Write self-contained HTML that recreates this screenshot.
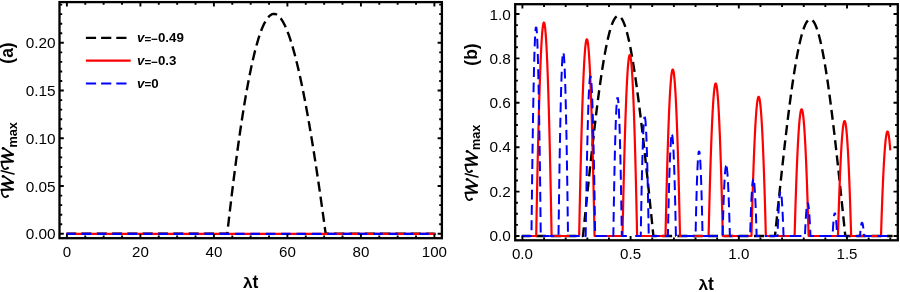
<!DOCTYPE html>
<html><head><meta charset="utf-8"><title>plot</title>
<style>html,body{margin:0;padding:0;background:#fff;}svg{display:block;will-change:transform;}</style>
</head><body>
<svg width="900" height="292" viewBox="0 0 900 292">
<rect width="900" height="292" fill="#fff"/>
<defs>
<clipPath id="cl"><rect x="59.5" y="2.1" width="382.4" height="236.1"/></clipPath>
<clipPath id="cr"><rect x="515.2" y="4.2" width="382.6" height="236.1"/></clipPath>
</defs>
<g clip-path="url(#cl)">
<path d="M66.9,233.8 L227.26,233.8 L227.87,228.34 L228.48,222.94 L229.09,217.62 L229.7,212.36 L230.3,207.17 L230.91,202.05 L231.51,197 L232.12,192.02 L232.72,187.11 L233.32,182.26 L233.92,177.48 L234.52,172.78 L235.11,168.14 L235.71,163.57 L236.3,159.07 L236.9,154.64 L237.49,150.27 L238.08,145.98 L238.67,141.75 L239.26,137.59 L239.85,133.5 L240.44,129.48 L241.03,125.53 L241.61,121.65 L242.2,117.84 L242.78,114.09 L243.37,110.42 L243.95,106.81 L244.53,103.27 L245.12,99.8 L245.7,96.4 L246.28,93.06 L246.86,89.8 L247.44,86.6 L248.02,83.48 L248.59,80.42 L249.17,77.43 L249.75,74.51 L250.33,71.66 L250.9,68.88 L251.48,66.16 L252.06,63.51 L252.63,60.94 L253.21,58.43 L253.78,55.99 L254.36,53.62 L254.93,51.32 L255.51,49.08 L256.08,46.92 L256.66,44.82 L257.23,42.8 L257.81,40.84 L258.38,38.95 L258.95,37.13 L259.53,35.37 L260.1,33.69 L260.68,32.08 L261.25,30.53 L261.83,29.05 L262.4,27.64 L262.98,26.3 L263.55,25.03 L264.13,23.83 L264.7,22.7 L265.28,21.63 L265.86,20.63 L266.43,19.71 L267.01,18.85 L267.59,18.06 L268.17,17.34 L268.75,16.68 L269.33,16.1 L269.91,15.58 L270.49,15.14 L271.07,14.76 L271.65,14.45 L272.23,14.21 L272.82,14.04 L273.4,13.93 L273.98,13.9 L274.57,13.93 L275.16,14.04 L275.74,14.21 L276.33,14.45 L276.92,14.76 L277.51,15.14 L278.1,15.58 L278.69,16.1 L279.28,16.68 L279.88,17.34 L280.47,18.06 L281.07,18.85 L281.66,19.71 L282.26,20.63 L282.86,21.63 L283.46,22.7 L284.06,23.83 L284.67,25.03 L285.27,26.3 L285.88,27.64 L286.48,29.05 L287.09,30.53 L287.7,32.08 L288.31,33.69 L288.92,35.37 L289.54,37.13 L290.15,38.95 L290.77,40.84 L291.39,42.8 L292.01,44.82 L292.63,46.92 L293.25,49.08 L293.88,51.32 L294.5,53.62 L295.13,55.99 L295.76,58.43 L296.4,60.94 L297.03,63.51 L297.66,66.16 L298.3,68.88 L298.94,71.66 L299.58,74.51 L300.23,77.43 L300.87,80.42 L301.52,83.48 L302.17,86.6 L302.82,89.8 L303.47,93.06 L304.13,96.4 L304.79,99.8 L305.45,103.27 L306.11,106.81 L306.77,110.42 L307.44,114.09 L308.11,117.84 L308.78,121.65 L309.45,125.53 L310.13,129.48 L310.81,133.5 L311.49,137.59 L312.17,141.75 L312.86,145.98 L313.55,150.27 L314.24,154.64 L314.93,159.07 L315.63,163.57 L316.33,168.14 L317.03,172.78 L317.73,177.48 L318.44,182.26 L319.15,187.11 L319.86,192.02 L320.58,197 L321.29,202.05 L322.01,207.17 L322.74,212.36 L323.46,217.62 L324.19,222.94 L324.93,228.34 L325.66,233.8 L434.4,233.8" fill="none" stroke="#000" stroke-width="2.4" stroke-linejoin="round" stroke-dasharray="10.2 5.1" stroke-dashoffset="0.8"/>
<path d="M66.2,233.8 L435.6,233.8" fill="none" stroke="#f00" stroke-width="2.3" stroke-linejoin="round"/>
<path d="M66.2,233.8 L435.6,233.8" fill="none" stroke="#00f" stroke-width="2.3" stroke-linejoin="round" stroke-dasharray="9.5 5.85" stroke-dashoffset="0"/>
</g>
<g clip-path="url(#cr)">
<path d="M521.7,236 L583,236 L583.59,230.24 L584.17,224.48 L584.76,218.73 L585.35,212.99 L585.93,207.27 L586.52,201.57 L587.11,195.89 L587.69,190.24 L588.28,184.62 L588.87,179.03 L589.45,173.49 L590.04,167.99 L590.63,162.53 L591.21,157.12 L591.8,151.77 L592.39,146.48 L592.97,141.24 L593.56,136.08 L594.15,130.98 L594.73,125.95 L595.32,121 L595.91,116.12 L596.49,111.33 L597.08,106.63 L597.67,102.01 L598.25,97.49 L598.84,93.06 L599.43,88.72 L600.01,84.49 L600.6,80.37 L601.19,76.35 L601.77,72.43 L602.36,68.63 L602.95,64.95 L603.53,61.38 L604.12,57.94 L604.71,54.61 L605.29,51.41 L605.88,48.33 L606.47,45.39 L607.05,42.57 L607.64,39.89 L608.23,37.34 L608.81,34.93 L609.4,32.65 L609.99,30.52 L610.57,28.52 L611.16,26.67 L611.75,24.96 L612.33,23.4 L612.92,21.98 L613.51,20.71 L614.09,19.59 L614.68,18.61 L615.27,17.78 L615.85,17.11 L616.44,16.58 L617.03,16.2 L617.61,15.98 L618.2,15.9 L618.79,15.98 L619.37,16.2 L619.96,16.58 L620.55,17.11 L621.13,17.78 L621.72,18.61 L622.31,19.59 L622.89,20.71 L623.48,21.98 L624.07,23.4 L624.65,24.96 L625.24,26.67 L625.83,28.52 L626.41,30.52 L627,32.65 L627.59,34.93 L628.17,37.34 L628.76,39.89 L629.35,42.57 L629.93,45.39 L630.52,48.33 L631.11,51.41 L631.69,54.61 L632.28,57.94 L632.87,61.38 L633.45,64.95 L634.04,68.63 L634.63,72.43 L635.21,76.35 L635.8,80.37 L636.39,84.49 L636.97,88.72 L637.56,93.06 L638.15,97.49 L638.73,102.01 L639.32,106.63 L639.91,111.33 L640.49,116.12 L641.08,121 L641.67,125.95 L642.25,130.98 L642.84,136.08 L643.43,141.24 L644.01,146.48 L644.6,151.77 L645.19,157.12 L645.77,162.53 L646.36,167.99 L646.95,173.49 L647.53,179.03 L648.12,184.62 L648.71,190.24 L649.29,195.89 L649.88,201.57 L650.47,207.27 L651.05,212.99 L651.64,218.73 L652.23,224.48 L652.81,230.24 L653.4,236 L775,236 L775.59,230.33 L776.18,224.66 L776.76,219 L777.35,213.35 L777.94,207.71 L778.53,202.1 L779.12,196.51 L779.71,190.95 L780.29,185.41 L780.88,179.91 L781.47,174.45 L782.06,169.04 L782.65,163.66 L783.24,158.34 L783.83,153.07 L784.41,147.86 L785,142.71 L785.59,137.62 L786.18,132.6 L786.77,127.65 L787.36,122.77 L787.94,117.98 L788.53,113.26 L789.12,108.63 L789.71,104.08 L790.3,99.63 L790.88,95.26 L791.47,91 L792.06,86.83 L792.65,82.77 L793.24,78.81 L793.83,74.96 L794.41,71.22 L795,67.59 L795.59,64.08 L796.18,60.69 L796.77,57.41 L797.36,54.26 L797.94,51.23 L798.53,48.33 L799.12,45.56 L799.71,42.92 L800.3,40.41 L800.89,38.03 L801.47,35.8 L802.06,33.69 L802.65,31.73 L803.24,29.91 L803.83,28.22 L804.42,26.68 L805,25.29 L805.59,24.04 L806.18,22.93 L806.77,21.97 L807.36,21.15 L807.95,20.49 L808.53,19.97 L809.12,19.6 L809.71,19.37 L810.3,19.3 L810.88,19.37 L811.47,19.6 L812.05,19.97 L812.63,20.49 L813.22,21.15 L813.8,21.97 L814.38,22.93 L814.97,24.04 L815.55,25.29 L816.13,26.68 L816.72,28.22 L817.3,29.91 L817.88,31.73 L818.47,33.69 L819.05,35.8 L819.63,38.03 L820.22,40.41 L820.8,42.92 L821.38,45.56 L821.97,48.33 L822.55,51.23 L823.13,54.26 L823.72,57.41 L824.3,60.69 L824.88,64.08 L825.47,67.59 L826.05,71.22 L826.63,74.96 L827.22,78.81 L827.8,82.77 L828.38,86.83 L828.97,91 L829.55,95.26 L830.13,99.63 L830.72,104.08 L831.3,108.63 L831.88,113.26 L832.47,117.98 L833.05,122.77 L833.63,127.65 L834.22,132.6 L834.8,137.62 L835.38,142.71 L835.97,147.86 L836.55,153.07 L837.13,158.34 L837.72,163.66 L838.3,169.04 L838.88,174.45 L839.47,179.91 L840.05,185.41 L840.63,190.95 L841.22,196.51 L841.8,202.1 L842.38,207.71 L842.97,213.35 L843.55,219 L844.13,224.66 L844.72,230.33 L845.3,236 L892.6,236" fill="none" stroke="#000" stroke-width="2.4" stroke-linejoin="round" stroke-dasharray="10 5.32" stroke-dashoffset="1.2"/>
<path d="M521.7,236 L536.2,236 L536.46,222 L536.71,208.48 L536.97,195.44 L537.23,182.86 L537.48,170.76 L537.74,159.14 L538,147.99 L538.25,137.32 L538.51,127.11 L538.77,117.39 L539.02,108.14 L539.28,99.36 L539.54,91.06 L539.79,83.23 L540.05,75.88 L540.31,69 L540.56,62.59 L540.82,56.66 L541.08,51.2 L541.33,46.22 L541.59,41.72 L541.85,37.68 L542.1,34.12 L542.36,31.04 L542.62,28.43 L542.87,26.3 L543.13,24.63 L543.39,23.45 L543.64,22.74 L543.9,22.5 L544.16,22.74 L544.41,23.45 L544.67,24.63 L544.93,26.3 L545.18,28.43 L545.44,31.04 L545.7,34.12 L545.95,37.68 L546.21,41.72 L546.47,46.22 L546.72,51.2 L546.98,56.66 L547.24,62.59 L547.49,69 L547.75,75.88 L548.01,83.23 L548.26,91.06 L548.52,99.36 L548.78,108.14 L549.03,117.39 L549.29,127.11 L549.55,137.32 L549.8,147.99 L550.06,159.14 L550.32,170.76 L550.57,182.86 L550.83,195.43 L551.09,208.48 L551.34,222 L551.6,236 L579.15,236 L579.41,223.1 L579.66,210.64 L579.92,198.62 L580.18,187.03 L580.43,175.88 L580.69,165.17 L580.95,154.9 L581.2,145.06 L581.46,135.66 L581.72,126.69 L581.97,118.17 L582.23,110.08 L582.49,102.43 L582.74,95.21 L583,88.44 L583.26,82.1 L583.51,76.2 L583.77,70.73 L584.03,65.7 L584.28,61.11 L584.54,56.96 L584.8,53.24 L585.05,49.96 L585.31,47.12 L585.57,44.72 L585.82,42.75 L586.08,41.22 L586.34,40.12 L586.59,39.47 L586.85,39.25 L587.11,39.47 L587.36,40.12 L587.62,41.22 L587.88,42.75 L588.13,44.72 L588.39,47.12 L588.65,49.96 L588.9,53.24 L589.16,56.96 L589.42,61.11 L589.67,65.7 L589.93,70.73 L590.19,76.2 L590.44,82.1 L590.7,88.44 L590.96,95.21 L591.21,102.43 L591.47,110.08 L591.73,118.17 L591.98,126.69 L592.24,135.66 L592.5,145.06 L592.75,154.9 L593.01,165.17 L593.27,175.88 L593.52,187.03 L593.78,198.62 L594.04,210.64 L594.29,223.1 L594.55,236 L622.5,236 L622.74,224.13 L622.99,212.67 L623.23,201.61 L623.47,190.95 L623.72,180.69 L623.96,170.84 L624.2,161.39 L624.45,152.34 L624.69,143.69 L624.93,135.44 L625.18,127.6 L625.42,120.16 L625.66,113.12 L625.91,106.48 L626.15,100.25 L626.39,94.42 L626.64,88.99 L626.88,83.96 L627.12,79.33 L627.37,75.11 L627.61,71.29 L627.85,67.87 L628.1,64.85 L628.34,62.24 L628.58,60.03 L628.83,58.22 L629.07,56.81 L629.31,55.8 L629.56,55.2 L629.8,55 L630.04,55.2 L630.29,55.8 L630.53,56.81 L630.77,58.22 L631.02,60.03 L631.26,62.24 L631.5,64.85 L631.75,67.87 L631.99,71.29 L632.23,75.11 L632.48,79.33 L632.72,83.96 L632.96,88.99 L633.21,94.42 L633.45,100.25 L633.69,106.48 L633.94,113.12 L634.18,120.16 L634.42,127.6 L634.67,135.44 L634.91,143.69 L635.15,152.34 L635.4,161.39 L635.64,170.84 L635.88,180.69 L636.13,190.95 L636.37,201.61 L636.61,212.67 L636.86,224.13 L637.1,236 L665.5,236 L665.74,225.08 L665.98,214.54 L666.23,204.37 L666.47,194.56 L666.71,185.12 L666.95,176.06 L667.19,167.37 L667.43,159.04 L667.67,151.08 L667.92,143.5 L668.16,136.28 L668.4,129.44 L668.64,122.97 L668.88,116.86 L669.12,111.12 L669.37,105.76 L669.61,100.77 L669.85,96.14 L670.09,91.89 L670.33,88 L670.58,84.49 L670.82,81.34 L671.06,78.57 L671.3,76.16 L671.54,74.12 L671.78,72.46 L672.02,71.16 L672.27,70.24 L672.51,69.69 L672.75,69.5 L672.99,69.69 L673.23,70.24 L673.48,71.16 L673.72,72.46 L673.96,74.12 L674.2,76.16 L674.44,78.57 L674.68,81.34 L674.92,84.49 L675.17,88 L675.41,91.89 L675.65,96.14 L675.89,100.77 L676.13,105.76 L676.38,111.12 L676.62,116.86 L676.86,122.97 L677.1,129.44 L677.34,136.28 L677.58,143.5 L677.83,151.08 L678.07,159.04 L678.31,167.37 L678.55,176.06 L678.79,185.12 L679.03,194.56 L679.27,204.36 L679.52,214.54 L679.76,225.08 L680,236 L708.6,236 L708.84,226 L709.07,216.34 L709.31,207.03 L709.55,198.04 L709.78,189.4 L710.02,181.1 L710.26,173.14 L710.49,165.51 L710.73,158.22 L710.97,151.28 L711.2,144.67 L711.44,138.4 L711.68,132.47 L711.91,126.88 L712.15,121.62 L712.39,116.71 L712.62,112.14 L712.86,107.9 L713.1,104 L713.33,100.44 L713.57,97.23 L713.81,94.34 L714.04,91.8 L714.28,89.6 L714.52,87.74 L714.75,86.21 L714.99,85.03 L715.23,84.18 L715.46,83.67 L715.7,83.5 L715.94,83.67 L716.17,84.18 L716.41,85.03 L716.65,86.21 L716.88,87.74 L717.12,89.6 L717.36,91.8 L717.59,94.34 L717.83,97.23 L718.07,100.44 L718.3,104 L718.54,107.9 L718.78,112.14 L719.01,116.71 L719.25,121.62 L719.49,126.88 L719.72,132.47 L719.96,138.4 L720.2,144.67 L720.43,151.28 L720.67,158.22 L720.91,165.51 L721.14,173.14 L721.38,181.1 L721.62,189.4 L721.85,198.04 L722.09,207.02 L722.33,216.34 L722.56,226 L722.8,236 L751.45,236 L751.69,226.87 L751.93,218.05 L752.17,209.54 L752.41,201.34 L752.65,193.45 L752.89,185.87 L753.13,178.6 L753.37,171.64 L753.61,164.98 L753.85,158.64 L754.09,152.6 L754.33,146.88 L754.57,141.46 L754.81,136.36 L755.05,131.56 L755.29,127.08 L755.53,122.9 L755.77,119.03 L756.01,115.47 L756.25,112.22 L756.49,109.28 L756.73,106.65 L756.97,104.33 L757.21,102.32 L757.45,100.62 L757.69,99.23 L757.93,98.14 L758.17,97.37 L758.41,96.9 L758.65,96.75 L758.89,96.9 L759.13,97.37 L759.37,98.14 L759.61,99.23 L759.85,100.62 L760.09,102.32 L760.33,104.33 L760.57,106.65 L760.81,109.28 L761.05,112.22 L761.29,115.47 L761.53,119.03 L761.77,122.9 L762.01,127.08 L762.25,131.56 L762.49,136.36 L762.73,141.46 L762.97,146.88 L763.21,152.6 L763.45,158.64 L763.69,164.98 L763.93,171.64 L764.17,178.6 L764.41,185.87 L764.65,193.45 L764.89,201.34 L765.13,209.54 L765.37,218.05 L765.61,226.87 L765.85,236 L794.6,236 L794.83,227.69 L795.07,219.66 L795.3,211.92 L795.53,204.45 L795.77,197.27 L796,190.37 L796.23,183.75 L796.47,177.41 L796.7,171.36 L796.93,165.58 L797.17,160.09 L797.4,154.88 L797.63,149.95 L797.87,145.3 L798.1,140.94 L798.33,136.85 L798.57,133.05 L798.8,129.53 L799.03,126.29 L799.27,123.33 L799.5,120.66 L799.73,118.26 L799.97,116.15 L800.2,114.32 L800.43,112.77 L800.67,111.5 L800.9,110.52 L801.13,109.81 L801.37,109.39 L801.6,109.25 L801.83,109.39 L802.07,109.81 L802.3,110.52 L802.53,111.5 L802.77,112.77 L803,114.32 L803.23,116.15 L803.47,118.26 L803.7,120.66 L803.93,123.33 L804.17,126.29 L804.4,129.53 L804.63,133.05 L804.87,136.85 L805.1,140.94 L805.33,145.3 L805.57,149.95 L805.8,154.88 L806.03,160.09 L806.27,165.58 L806.5,171.36 L806.73,177.41 L806.97,183.75 L807.2,190.37 L807.43,197.27 L807.67,204.45 L807.9,211.92 L808.13,219.66 L808.37,227.69 L808.6,236 L837.95,236 L838.17,228.46 L838.39,221.18 L838.61,214.15 L838.83,207.38 L839.05,200.86 L839.27,194.6 L839.49,188.59 L839.71,182.84 L839.93,177.35 L840.15,172.11 L840.37,167.13 L840.59,162.4 L840.81,157.93 L841.03,153.71 L841.25,149.75 L841.47,146.04 L841.69,142.59 L841.91,139.4 L842.13,136.46 L842.35,133.78 L842.57,131.35 L842.79,129.18 L843.01,127.26 L843.23,125.6 L843.45,124.19 L843.67,123.04 L843.89,122.15 L844.11,121.51 L844.33,121.13 L844.55,121 L844.77,121.13 L844.99,121.51 L845.21,122.15 L845.43,123.04 L845.65,124.19 L845.87,125.6 L846.09,127.26 L846.31,129.18 L846.53,131.35 L846.75,133.78 L846.97,136.46 L847.19,139.4 L847.41,142.59 L847.63,146.04 L847.85,149.75 L848.07,153.71 L848.29,157.93 L848.51,162.4 L848.73,167.13 L848.95,172.11 L849.17,177.35 L849.39,182.84 L849.61,188.59 L849.83,194.6 L850.05,200.86 L850.27,207.38 L850.49,214.15 L850.71,221.18 L850.93,228.46 L851.15,236 L881,236 L881.16,230.84 L881.33,225.81 L881.49,220.91 L881.65,216.15 L881.81,211.51 L881.98,207 L882.14,202.63 L882.3,198.38 L882.46,194.27 L882.62,190.28 L882.79,186.43 L882.95,182.7 L883.11,179.11 L883.27,175.65 L883.44,172.32 L883.6,169.12 L883.76,166.05 L883.92,163.11 L884.09,160.3 L884.25,157.62 L884.41,155.08 L884.58,152.66 L884.74,150.38 L884.9,148.22 L885.06,146.2 L885.23,144.3 L885.39,142.54 L885.55,140.91 L885.71,139.4 L885.88,138.03 L886.04,136.79 L886.2,135.68 L886.36,134.7 L886.52,133.85 L886.69,133.13 L886.85,132.55 L887.01,132.09 L887.17,131.76 L887.34,131.57 L887.5,131.5 L887.66,131.57 L887.83,131.76 L887.99,132.09 L888.15,132.55 L888.31,133.13 L888.48,133.85 L888.64,134.7 L888.8,135.68 L888.96,136.79 L889.12,138.03 L889.29,139.4 L889.45,140.91 L889.61,142.54 L889.77,144.3 L889.94,146.2 L890.1,148.22 L890.26,150.38" fill="none" stroke="#f00" stroke-width="2.2" stroke-linejoin="round"/>
<path d="M521.7,236 L531.45,236 L531.64,218.94 L531.84,202.6 L532.03,186.99 L532.23,172.11 L532.42,157.95 L532.61,144.52 L532.81,131.81 L533,119.83 L533.19,108.58 L533.39,98.05 L533.58,88.25 L533.78,79.18 L533.97,70.83 L534.16,63.2 L534.36,56.3 L534.55,50.13 L534.74,44.69 L534.94,39.97 L535.13,35.98 L535.33,32.71 L535.52,30.17 L535.71,28.35 L535.91,27.26 L536.1,26.9" fill="none" stroke="#00f" stroke-width="2.0" stroke-linejoin="round" stroke-dasharray="9.9 5.42" stroke-dashoffset="15.09"/>
<path d="M536.1,26.9 L536.29,27.26 L536.49,28.35 L536.68,30.17 L536.88,32.71 L537.07,35.98 L537.26,39.97 L537.46,44.69 L537.65,50.13 L537.84,56.3 L538.04,63.2 L538.23,70.83 L538.42,79.18 L538.62,88.25 L538.81,98.05 L539.01,108.58 L539.2,119.83 L539.39,131.81 L539.59,144.52 L539.78,157.95 L539.98,172.11 L540.17,186.99 L540.36,202.6 L540.56,218.94 L540.75,236 L549.63,236" fill="none" stroke="#00f" stroke-width="2.0" stroke-linejoin="round" stroke-dasharray="9.9 5.42" stroke-dashoffset="3.43"/>
<path d="M549.63,236 L558.51,236 L558.71,221.04 L558.91,206.71 L559.1,193.02 L559.3,179.96 L559.5,167.54 L559.7,155.76 L559.9,144.62 L560.09,134.11 L560.29,124.24 L560.49,115.01 L560.69,106.41 L560.88,98.45 L561.08,91.13 L561.28,84.44 L561.48,78.39 L561.68,72.98 L561.87,68.2 L562.07,64.06 L562.27,60.56 L562.47,57.69 L562.67,55.47 L562.86,53.87 L563.06,52.92 L563.26,52.6" fill="none" stroke="#00f" stroke-width="2.0" stroke-linejoin="round" stroke-dasharray="9.9 5.42" stroke-dashoffset="5.24"/>
<path d="M563.26,52.6 L563.46,52.92 L563.66,53.87 L563.85,55.47 L564.05,57.69 L564.25,60.56 L564.45,64.06 L564.65,68.2 L564.84,72.98 L565.04,78.39 L565.24,84.44 L565.44,91.13 L565.63,98.45 L565.83,106.41 L566.03,115.01 L566.23,124.24 L566.43,134.11 L566.62,144.62 L566.82,155.76 L567.02,167.54 L567.22,179.96 L567.42,193.02 L567.61,206.71 L567.81,221.04 L568.01,236 L576.84,236 L585.67,236 L585.87,222.95 L586.07,210.46 L586.26,198.52 L586.46,187.14 L586.66,176.32 L586.86,166.04 L587.06,156.33 L587.25,147.17 L587.45,138.56 L587.65,130.51 L587.85,123.02 L588.05,116.07 L588.24,109.69 L588.44,103.86 L588.64,98.59 L588.84,93.87 L589.03,89.7 L589.23,86.09 L589.43,83.04 L589.63,80.54 L589.83,78.6 L590.02,77.21 L590.22,76.38 L590.42,76.1" fill="none" stroke="#00f" stroke-width="2.0" stroke-linejoin="round" stroke-dasharray="9.9 5.42" stroke-dashoffset="14.49"/>
<path d="M590.42,76.1 L590.62,76.38 L590.82,77.21 L591.01,78.6 L591.21,80.54 L591.41,83.04 L591.61,86.09 L591.81,89.7 L592,93.87 L592.2,98.59 L592.4,103.86 L592.6,109.69 L592.8,116.07 L592.99,123.02 L593.19,130.51 L593.39,138.56 L593.59,147.17 L593.78,156.33 L593.98,166.04 L594.18,176.32 L594.38,187.14 L594.58,198.52 L594.77,210.46 L594.97,222.95 L595.17,236 L604.25,236" fill="none" stroke="#00f" stroke-width="2.0" stroke-linejoin="round" stroke-dasharray="9.9 5.42" stroke-dashoffset="8.13"/>
<path d="M604.25,236 L613.33,236 L613.51,224.7 L613.68,213.88 L613.86,203.54 L614.04,193.68 L614.22,184.3 L614.39,175.41 L614.57,166.99 L614.75,159.06 L614.92,151.6 L615.1,144.63 L615.28,138.14 L615.46,132.12 L615.63,126.59 L615.81,121.55 L615.99,116.98 L616.16,112.89 L616.34,109.28 L616.52,106.16 L616.69,103.51 L616.87,101.35 L617.05,99.66 L617.23,98.46 L617.4,97.74 L617.58,97.5" fill="none" stroke="#00f" stroke-width="2.0" stroke-linejoin="round" stroke-dasharray="9.9 5.42" stroke-dashoffset="7.36"/>
<path d="M617.58,97.5 L617.76,97.74 L617.93,98.46 L618.11,99.66 L618.29,101.35 L618.47,103.51 L618.64,106.16 L618.82,109.28 L619,112.89 L619.17,116.98 L619.35,121.55 L619.53,126.59 L619.71,132.12 L619.88,138.14 L620.06,144.63 L620.24,151.6 L620.41,159.06 L620.59,166.99 L620.77,175.41 L620.94,184.3 L621.12,193.68 L621.3,203.54 L621.48,213.88 L621.65,224.7 L621.83,236 L631.29,236" fill="none" stroke="#00f" stroke-width="2.0" stroke-linejoin="round" stroke-dasharray="9.9 5.42" stroke-dashoffset="4.12"/>
<path d="M631.29,236 L640.74,236 L640.91,226.29 L641.07,216.99 L641.24,208.11 L641.41,199.64 L641.57,191.58 L641.74,183.94 L641.91,176.71 L642.07,169.89 L642.24,163.48 L642.41,157.49 L642.57,151.91 L642.74,146.75 L642.91,142 L643.07,137.66 L643.24,133.73 L643.41,130.22 L643.57,127.12 L643.74,124.44 L643.91,122.16 L644.07,120.31 L644.24,118.86 L644.41,117.83 L644.57,117.21 L644.74,117" fill="none" stroke="#00f" stroke-width="2.0" stroke-linejoin="round" stroke-dasharray="9.9 5.42" stroke-dashoffset="11.38"/>
<path d="M644.74,117 L644.91,117.21 L645.07,117.83 L645.24,118.86 L645.41,120.31 L645.57,122.16 L645.74,124.44 L645.91,127.12 L646.07,130.22 L646.24,133.73 L646.41,137.66 L646.57,142 L646.74,146.75 L646.91,151.91 L647.07,157.49 L647.24,163.48 L647.41,169.89 L647.57,176.71 L647.74,183.94 L647.91,191.58 L648.07,199.64 L648.24,208.11 L648.41,216.99 L648.57,226.29 L648.74,236 L658.32,236" fill="none" stroke="#00f" stroke-width="2.0" stroke-linejoin="round" stroke-dasharray="9.9 5.42" stroke-dashoffset="0.48"/>
<path d="M658.32,236 L667.9,236 L668.07,227.74 L668.23,219.84 L668.4,212.28 L668.57,205.08 L668.73,198.23 L668.9,191.73 L669.07,185.58 L669.23,179.78 L669.4,174.33 L669.57,169.24 L669.73,164.49 L669.9,160.1 L670.07,156.06 L670.23,152.37 L670.4,149.03 L670.57,146.04 L670.73,143.41 L670.9,141.12 L671.07,139.19 L671.23,137.61 L671.4,136.38 L671.57,135.5 L671.73,134.98 L671.9,134.8" fill="none" stroke="#00f" stroke-width="2.0" stroke-linejoin="round" stroke-dasharray="9.9 5.42" stroke-dashoffset="8.66"/>
<path d="M671.9,134.8 L672.07,134.98 L672.23,135.5 L672.4,136.38 L672.57,137.61 L672.73,139.19 L672.9,141.12 L673.07,143.41 L673.23,146.04 L673.4,149.03 L673.57,152.37 L673.73,156.06 L673.9,160.1 L674.07,164.49 L674.23,169.24 L674.4,174.33 L674.57,179.78 L674.73,185.58 L674.9,191.73 L675.07,198.23 L675.23,205.08 L675.4,212.28 L675.57,219.84 L675.73,227.74 L675.9,236 L685.73,236" fill="none" stroke="#00f" stroke-width="2.0" stroke-linejoin="round" stroke-dasharray="9.9 5.42" stroke-dashoffset="0.33"/>
<path d="M685.73,236 L695.56,236 L695.71,229.07 L695.85,222.44 L696,216.1 L696.14,210.06 L696.29,204.31 L696.44,198.86 L696.58,193.7 L696.73,188.83 L696.87,184.26 L697.02,179.99 L697.16,176.01 L697.31,172.32 L697.46,168.93 L697.6,165.84 L697.75,163.04 L697.89,160.53 L698.04,158.32 L698.19,156.41 L698.33,154.78 L698.48,153.46 L698.62,152.43 L698.77,151.69 L698.91,151.25 L699.06,151.1" fill="none" stroke="#00f" stroke-width="2.0" stroke-linejoin="round" stroke-dasharray="9.9 5.42" stroke-dashoffset="0.99"/>
<path d="M699.06,151.1 L699.21,151.25 L699.35,151.69 L699.5,152.43 L699.64,153.46 L699.79,154.78 L699.94,156.41 L700.08,158.32 L700.23,160.53 L700.37,163.04 L700.52,165.84 L700.66,168.93 L700.81,172.32 L700.96,176.01 L701.1,179.99 L701.25,184.26 L701.39,188.83 L701.54,193.7 L701.69,198.86 L701.83,204.31 L701.98,210.06 L702.12,216.1 L702.27,222.44 L702.41,229.07 L702.56,236 L712.57,236" fill="none" stroke="#00f" stroke-width="2.0" stroke-linejoin="round" stroke-dasharray="9.9 5.42" stroke-dashoffset="6.53"/>
<path d="M712.57,236 L722.57,236 L722.72,230.28 L722.87,224.8 L723.03,219.57 L723.18,214.58 L723.33,209.83 L723.48,205.33 L723.63,201.07 L723.79,197.06 L723.94,193.28 L724.09,189.75 L724.24,186.47 L724.39,183.43 L724.55,180.63 L724.7,178.07 L724.85,175.76 L725,173.69 L725.16,171.86 L725.31,170.28 L725.46,168.94 L725.61,167.85 L725.76,167 L725.92,166.39 L726.07,166.02 L726.22,165.9" fill="none" stroke="#00f" stroke-width="2.0" stroke-linejoin="round" stroke-dasharray="9.9 5.42" stroke-dashoffset="4.81"/>
<path d="M726.22,165.9 L726.37,166.02 L726.52,166.39 L726.68,167 L726.83,167.85 L726.98,168.94 L727.13,170.28 L727.28,171.86 L727.44,173.69 L727.59,175.76 L727.74,178.07 L727.89,180.63 L728.05,183.43 L728.2,186.47 L728.35,189.75 L728.5,193.28 L728.65,197.06 L728.81,201.07 L728.96,205.33 L729.11,209.83 L729.26,214.58 L729.41,219.57 L729.57,224.8 L729.72,230.28 L729.87,236 L740,236" fill="none" stroke="#00f" stroke-width="2.0" stroke-linejoin="round" stroke-dasharray="9.9 5.42" stroke-dashoffset="14.28"/>
<path d="M740,236 L750.13,236 L750.27,231.38 L750.4,226.96 L750.54,222.73 L750.67,218.71 L750.81,214.87 L750.94,211.24 L751.08,207.8 L751.21,204.56 L751.35,201.51 L751.48,198.66 L751.62,196.01 L751.75,193.55 L751.89,191.29 L752.03,189.23 L752.16,187.36 L752.3,185.69 L752.43,184.21 L752.57,182.94 L752.7,181.86 L752.84,180.97 L752.97,180.28 L753.11,179.79 L753.24,179.5 L753.38,179.4" fill="none" stroke="#00f" stroke-width="2.0" stroke-linejoin="round" stroke-dasharray="9.9 5.42" stroke-dashoffset="1.49"/>
<path d="M753.38,179.4 L753.52,179.5 L753.65,179.79 L753.79,180.28 L753.92,180.97 L754.06,181.86 L754.19,182.94 L754.33,184.21 L754.46,185.69 L754.6,187.36 L754.73,189.23 L754.87,191.29 L755,193.55 L755.14,196.01 L755.28,198.66 L755.41,201.51 L755.55,204.56 L755.68,207.8 L755.82,211.24 L755.95,214.87 L756.09,218.71 L756.22,222.73 L756.36,226.96 L756.49,231.38 L756.63,236 L767.09,236" fill="none" stroke="#00f" stroke-width="2.0" stroke-linejoin="round" stroke-dasharray="9.9 5.42" stroke-dashoffset="11.67"/>
<path d="M767.09,236 L777.54,236 L777.66,232.39 L777.79,228.92 L777.91,225.62 L778.04,222.46 L778.16,219.46 L778.29,216.62 L778.41,213.93 L778.54,211.39 L778.66,209 L778.79,206.77 L778.91,204.7 L779.04,202.77 L779.16,201.01 L779.29,199.39 L779.41,197.93 L779.54,196.62 L779.66,195.47 L779.79,194.47 L779.91,193.62 L780.04,192.93 L780.16,192.39 L780.29,192.01 L780.41,191.78 L780.54,191.7" fill="none" stroke="#00f" stroke-width="2.0" stroke-linejoin="round" stroke-dasharray="9.9 5.42" stroke-dashoffset="12.98"/>
<path d="M780.54,191.7 L780.66,191.78 L780.79,192.01 L780.91,192.39 L781.04,192.93 L781.16,193.62 L781.29,194.47 L781.41,195.47 L781.54,196.62 L781.66,197.93 L781.79,199.39 L781.91,201.01 L782.04,202.77 L782.16,204.7 L782.29,206.77 L782.41,209 L782.54,211.39 L782.66,213.93 L782.79,216.62 L782.91,219.46 L783.04,222.46 L783.16,225.62 L783.29,228.92 L783.41,232.39 L783.54,236 L794.25,236" fill="none" stroke="#00f" stroke-width="2.0" stroke-linejoin="round" stroke-dasharray="9.9 5.42" stroke-dashoffset="10.34"/>
<path d="M794.25,236 L804.95,236 L805.06,233.31 L805.18,230.73 L805.29,228.27 L805.41,225.92 L805.52,223.68 L805.64,221.56 L805.75,219.56 L805.87,217.67 L805.98,215.89 L806.1,214.23 L806.21,212.68 L806.33,211.25 L806.44,209.93 L806.55,208.73 L806.67,207.64 L806.78,206.67 L806.9,205.81 L807.01,205.06 L807.13,204.43 L807.24,203.92 L807.36,203.52 L807.47,203.23 L807.59,203.06 L807.7,203" fill="none" stroke="#00f" stroke-width="2.0" stroke-linejoin="round" stroke-dasharray="9.9 5.42" stroke-dashoffset="2.71"/>
<path d="M807.7,203 L807.81,203.06 L807.93,203.23 L808.04,203.52 L808.16,203.92 L808.27,204.43 L808.39,205.06 L808.5,205.81 L808.62,206.67 L808.73,207.64 L808.85,208.73 L808.96,209.93 L809.08,211.25 L809.19,212.68 L809.3,214.23 L809.42,215.89 L809.53,217.67 L809.65,219.56 L809.76,221.56 L809.88,223.68 L809.99,225.92 L810.11,228.27 L810.22,230.73 L810.34,233.31 L810.45,236 L821.5,236" fill="none" stroke="#00f" stroke-width="2.0" stroke-linejoin="round" stroke-dasharray="9.9 5.42" stroke-dashoffset="3.7"/>
<path d="M821.5,236 L832.56,236 L832.66,234.14 L832.75,232.36 L832.85,230.66 L832.94,229.03 L833.04,227.49 L833.13,226.03 L833.23,224.64 L833.33,223.33 L833.42,222.11 L833.52,220.96 L833.61,219.89 L833.71,218.9 L833.81,217.99 L833.9,217.16 L834,216.41 L834.09,215.73 L834.19,215.14 L834.29,214.62 L834.38,214.19 L834.48,213.83 L834.57,213.56 L834.67,213.36 L834.76,213.24 L834.86,213.2" fill="none" stroke="#00f" stroke-width="2.0" stroke-linejoin="round" stroke-dasharray="9.9 5.42" stroke-dashoffset="15.08"/>
<path d="M834.86,213.2 L834.96,213.24 L835.05,213.36 L835.15,213.56 L835.24,213.83 L835.34,214.19 L835.43,214.62 L835.53,215.14 L835.63,215.73 L835.72,216.41 L835.82,217.16 L835.91,217.99 L836.01,218.9 L836.11,219.89 L836.2,220.96 L836.3,222.11 L836.39,223.33 L836.49,224.64 L836.59,226.03 L836.68,227.49 L836.78,229.03 L836.87,230.66 L836.97,232.36 L837.06,234.14 L837.16,236 L848.59,236" fill="none" stroke="#00f" stroke-width="2.0" stroke-linejoin="round" stroke-dasharray="9.9 5.42" stroke-dashoffset="8.22"/>
<path d="M848.59,236 L860.02,236 L860.1,234.91 L860.19,233.86 L860.27,232.86 L860.35,231.91 L860.44,231 L860.52,230.14 L860.6,229.32 L860.69,228.56 L860.77,227.83 L860.85,227.16 L860.94,226.53 L861.02,225.95 L861.1,225.41 L861.19,224.93 L861.27,224.48 L861.35,224.09 L861.44,223.74 L861.52,223.44 L861.6,223.18 L861.69,222.97 L861.77,222.81 L861.85,222.69 L861.94,222.62 L862.02,222.6" fill="none" stroke="#00f" stroke-width="2.0" stroke-linejoin="round" stroke-dasharray="9.9 5.42" stroke-dashoffset="8.65"/>
<path d="M862.02,222.6 L862.1,222.62 L862.19,222.69 L862.27,222.81 L862.35,222.97 L862.44,223.18 L862.52,223.44 L862.6,223.74 L862.69,224.09 L862.77,224.48 L862.85,224.93 L862.94,225.41 L863.02,225.95 L863.1,226.53 L863.19,227.16 L863.27,227.83 L863.35,228.56 L863.44,229.32 L863.52,230.14 L863.6,231 L863.69,231.91 L863.77,232.86 L863.85,233.86 L863.94,234.91 L864.02,236 L889.6,236" fill="none" stroke="#00f" stroke-width="2.0" stroke-linejoin="round" stroke-dasharray="9.9 5.42" stroke-dashoffset="3.75"/>
</g>
<rect x="59.5" y="2.1" width="382.4" height="236.1" fill="none" stroke="#000" stroke-width="2.3"/>
<path d="M66.9,238.2 v-4.3 M66.9,2.1 v4.3 M140.4,238.2 v-4.3 M140.4,2.1 v4.3 M213.9,238.2 v-4.3 M213.9,2.1 v4.3 M287.4,238.2 v-4.3 M287.4,2.1 v4.3 M360.9,238.2 v-4.3 M360.9,2.1 v4.3 M434.4,238.2 v-4.3 M434.4,2.1 v4.3 M85.28,238.2 v-2.7 M85.28,2.1 v2.7 M103.65,238.2 v-2.7 M103.65,2.1 v2.7 M122.03,238.2 v-2.7 M122.03,2.1 v2.7 M158.78,238.2 v-2.7 M158.78,2.1 v2.7 M177.15,238.2 v-2.7 M177.15,2.1 v2.7 M195.53,238.2 v-2.7 M195.53,2.1 v2.7 M232.28,238.2 v-2.7 M232.28,2.1 v2.7 M250.65,238.2 v-2.7 M250.65,2.1 v2.7 M269.02,238.2 v-2.7 M269.02,2.1 v2.7 M305.77,238.2 v-2.7 M305.77,2.1 v2.7 M324.15,238.2 v-2.7 M324.15,2.1 v2.7 M342.52,238.2 v-2.7 M342.52,2.1 v2.7 M379.27,238.2 v-2.7 M379.27,2.1 v2.7 M397.65,238.2 v-2.7 M397.65,2.1 v2.7 M416.02,238.2 v-2.7 M416.02,2.1 v2.7 M59.5,233.8 h4.3 M441.9,233.8 h-4.3 M59.5,186.05 h4.3 M441.9,186.05 h-4.3 M59.5,138.3 h4.3 M441.9,138.3 h-4.3 M59.5,90.55 h4.3 M441.9,90.55 h-4.3 M59.5,42.8 h4.3 M441.9,42.8 h-4.3 M59.5,224.25 h2.7 M441.9,224.25 h-2.7 M59.5,214.7 h2.7 M441.9,214.7 h-2.7 M59.5,205.15 h2.7 M441.9,205.15 h-2.7 M59.5,195.6 h2.7 M441.9,195.6 h-2.7 M59.5,176.5 h2.7 M441.9,176.5 h-2.7 M59.5,166.95 h2.7 M441.9,166.95 h-2.7 M59.5,157.4 h2.7 M441.9,157.4 h-2.7 M59.5,147.85 h2.7 M441.9,147.85 h-2.7 M59.5,128.75 h2.7 M441.9,128.75 h-2.7 M59.5,119.2 h2.7 M441.9,119.2 h-2.7 M59.5,109.65 h2.7 M441.9,109.65 h-2.7 M59.5,100.1 h2.7 M441.9,100.1 h-2.7 M59.5,81 h2.7 M441.9,81 h-2.7 M59.5,71.45 h2.7 M441.9,71.45 h-2.7 M59.5,61.9 h2.7 M441.9,61.9 h-2.7 M59.5,52.35 h2.7 M441.9,52.35 h-2.7 M59.5,33.25 h2.7 M441.9,33.25 h-2.7 M59.5,23.7 h2.7 M441.9,23.7 h-2.7 M59.5,14.15 h2.7 M441.9,14.15 h-2.7 M59.5,4.6 h2.7 M441.9,4.6 h-2.7" stroke="#000" stroke-width="1.9" fill="none"/>
<rect x="515.2" y="4.2" width="382.6" height="236.1" fill="none" stroke="#000" stroke-width="2.3"/>
<path d="M522.4,240.3 v-4.3 M522.4,4.2 v4.3 M630.6,240.3 v-4.3 M630.6,4.2 v4.3 M738.8,240.3 v-4.3 M738.8,4.2 v4.3 M847,240.3 v-4.3 M847,4.2 v4.3 M544.04,240.3 v-2.7 M544.04,4.2 v2.7 M565.68,240.3 v-2.7 M565.68,4.2 v2.7 M587.32,240.3 v-2.7 M587.32,4.2 v2.7 M608.96,240.3 v-2.7 M608.96,4.2 v2.7 M652.24,240.3 v-2.7 M652.24,4.2 v2.7 M673.88,240.3 v-2.7 M673.88,4.2 v2.7 M695.52,240.3 v-2.7 M695.52,4.2 v2.7 M717.16,240.3 v-2.7 M717.16,4.2 v2.7 M760.44,240.3 v-2.7 M760.44,4.2 v2.7 M782.08,240.3 v-2.7 M782.08,4.2 v2.7 M803.72,240.3 v-2.7 M803.72,4.2 v2.7 M825.36,240.3 v-2.7 M825.36,4.2 v2.7 M868.64,240.3 v-2.7 M868.64,4.2 v2.7 M890.28,240.3 v-2.7 M890.28,4.2 v2.7 M515.2,236 h4.3 M897.8,236 h-4.3 M515.2,191.6 h4.3 M897.8,191.6 h-4.3 M515.2,147.2 h4.3 M897.8,147.2 h-4.3 M515.2,102.8 h4.3 M897.8,102.8 h-4.3 M515.2,58.4 h4.3 M897.8,58.4 h-4.3 M515.2,14 h4.3 M897.8,14 h-4.3 M515.2,224.9 h2.7 M897.8,224.9 h-2.7 M515.2,213.8 h2.7 M897.8,213.8 h-2.7 M515.2,202.7 h2.7 M897.8,202.7 h-2.7 M515.2,180.5 h2.7 M897.8,180.5 h-2.7 M515.2,169.4 h2.7 M897.8,169.4 h-2.7 M515.2,158.3 h2.7 M897.8,158.3 h-2.7 M515.2,136.1 h2.7 M897.8,136.1 h-2.7 M515.2,125 h2.7 M897.8,125 h-2.7 M515.2,113.9 h2.7 M897.8,113.9 h-2.7 M515.2,91.7 h2.7 M897.8,91.7 h-2.7 M515.2,80.6 h2.7 M897.8,80.6 h-2.7 M515.2,69.5 h2.7 M897.8,69.5 h-2.7 M515.2,47.3 h2.7 M897.8,47.3 h-2.7 M515.2,36.2 h2.7 M897.8,36.2 h-2.7 M515.2,25.1 h2.7 M897.8,25.1 h-2.7" stroke="#000" stroke-width="1.9" fill="none"/>
<g font-family="Liberation Sans, sans-serif" fill="#000">
<g font-size="15.4" text-anchor="end">
<text x="55.6" y="239.3">0.00</text>
<text x="55.6" y="191.55">0.05</text>
<text x="55.6" y="143.8">0.10</text>
<text x="55.6" y="96.05">0.15</text>
<text x="55.6" y="48.3">0.20</text>
<text x="510.9" y="240.9">0.0</text>
<text x="510.9" y="196.62">0.2</text>
<text x="510.9" y="152.34">0.4</text>
<text x="510.9" y="108.06">0.6</text>
<text x="510.9" y="63.78">0.8</text>
<text x="510.9" y="19.5">1.0</text>
</g>
<g font-size="15.1" text-anchor="middle">
<text x="66.9" y="257.2">0</text>
<text x="140.4" y="257.2">20</text>
<text x="213.9" y="257.2">40</text>
<text x="287.4" y="257.2">60</text>
<text x="360.9" y="257.2">80</text>
<text x="434.4" y="257.2">100</text>
<text x="522.4" y="259.2">0.0</text>
<text x="630.6" y="259.2">0.5</text>
<text x="738.8" y="259.2">1.0</text>
<text x="847" y="259.2">1.5</text>
</g>
</g>
<g font-family="Liberation Sans, sans-serif" font-weight="bold" fill="#000">
<text transform="translate(243,288) scale(1.07,0.95)" font-size="16.2">λ</text>
<text x="252.4" y="288" font-size="17.6">t</text>
<text transform="translate(698.6,290.3) scale(1.07,0.95)" font-size="16.2">λ</text>
<text x="708" y="290.3" font-size="17.6">t</text>
<text transform="translate(13.1,53) rotate(-90)" font-size="17.5" text-anchor="middle">(a)</text>
<text transform="translate(477.2,54.5) rotate(-90)" font-size="17.5" text-anchor="middle">(b)</text>
<text transform="translate(17,147.5) rotate(-90)" font-size="12.6">max</text>
<text transform="translate(480.4,150) rotate(-90)" font-size="12.6">max</text>
</g>
<g transform="translate(13.1,197.4) rotate(-90)" fill="none" stroke="#000" stroke-linecap="round" stroke-linejoin="round"><g transform="translate(0,0)"><path d="M7.5,-11.5 L8,-0.2 M13.4,-10.8 L14.9,-0.2" stroke-width="2.3"/><path d="M1.3,-5.6 C0,-6.5 -0.2,-8.3 1.2,-9.7 C2.8,-11.1 5.5,-11.6 7.5,-11.5 M8,-0.2 L13.4,-10.8 M14.9,-0.2 L21.2,-9.6" stroke-width="1.6"/><circle cx="1.5" cy="-5.5" r="1.25" fill="#000" stroke="none"/><circle cx="21.0" cy="-10.0" r="1.45" fill="#000" stroke="none"/></g><path d="M23.4,0.8 L26.6,-11.8" stroke-width="1.6"/><g transform="translate(28,0)"><path d="M7.5,-11.5 L8,-0.2 M13.4,-10.8 L14.9,-0.2" stroke-width="2.3"/><path d="M1.3,-5.6 C0,-6.5 -0.2,-8.3 1.2,-9.7 C2.8,-11.1 5.5,-11.6 7.5,-11.5 M8,-0.2 L13.4,-10.8 M14.9,-0.2 L21.2,-9.6" stroke-width="1.6"/><circle cx="1.5" cy="-5.5" r="1.25" fill="#000" stroke="none"/><circle cx="21.0" cy="-10.0" r="1.45" fill="#000" stroke="none"/></g></g>
<g transform="translate(477.1,200.4) rotate(-90)" fill="none" stroke="#000" stroke-linecap="round" stroke-linejoin="round"><g transform="translate(0,0)"><path d="M7.5,-11.5 L8,-0.2 M13.4,-10.8 L14.9,-0.2" stroke-width="2.3"/><path d="M1.3,-5.6 C0,-6.5 -0.2,-8.3 1.2,-9.7 C2.8,-11.1 5.5,-11.6 7.5,-11.5 M8,-0.2 L13.4,-10.8 M14.9,-0.2 L21.2,-9.6" stroke-width="1.6"/><circle cx="1.5" cy="-5.5" r="1.25" fill="#000" stroke="none"/><circle cx="21.0" cy="-10.0" r="1.45" fill="#000" stroke="none"/></g><path d="M23.4,0.8 L26.6,-11.8" stroke-width="1.6"/><g transform="translate(28,0)"><path d="M7.5,-11.5 L8,-0.2 M13.4,-10.8 L14.9,-0.2" stroke-width="2.3"/><path d="M1.3,-5.6 C0,-6.5 -0.2,-8.3 1.2,-9.7 C2.8,-11.1 5.5,-11.6 7.5,-11.5 M8,-0.2 L13.4,-10.8 M14.9,-0.2 L21.2,-9.6" stroke-width="1.6"/><circle cx="1.5" cy="-5.5" r="1.25" fill="#000" stroke="none"/><circle cx="21.0" cy="-10.0" r="1.45" fill="#000" stroke="none"/></g></g>
<g fill="none" stroke-width="2.2">
<path d="M85.9,37.9 h45" stroke="#000" stroke-dasharray="10.2 5"/>
<path d="M85.9,60.7 h44.8" stroke="#f00"/>
<path d="M85.9,83.5 h45" stroke="#00f" stroke-dasharray="10.2 5"/>
</g>
<g font-family="Liberation Sans, sans-serif" font-weight="bold" font-size="13.3" fill="#000">
<text x="137" y="42"><tspan font-style="italic">v</tspan><tspan font-size="11.6" dy="0.7">=−</tspan><tspan dy="-0.7">0.49</tspan></text>
<text x="137" y="64.8"><tspan font-style="italic">v</tspan><tspan font-size="11.6" dy="0.7">=−</tspan><tspan dy="-0.7">0.3</tspan></text>
<text x="137" y="87.6"><tspan font-style="italic">v</tspan><tspan font-size="11.6" dy="0.7">=</tspan><tspan dy="-0.7">0</tspan></text>
</g>
</svg>
</body></html>
